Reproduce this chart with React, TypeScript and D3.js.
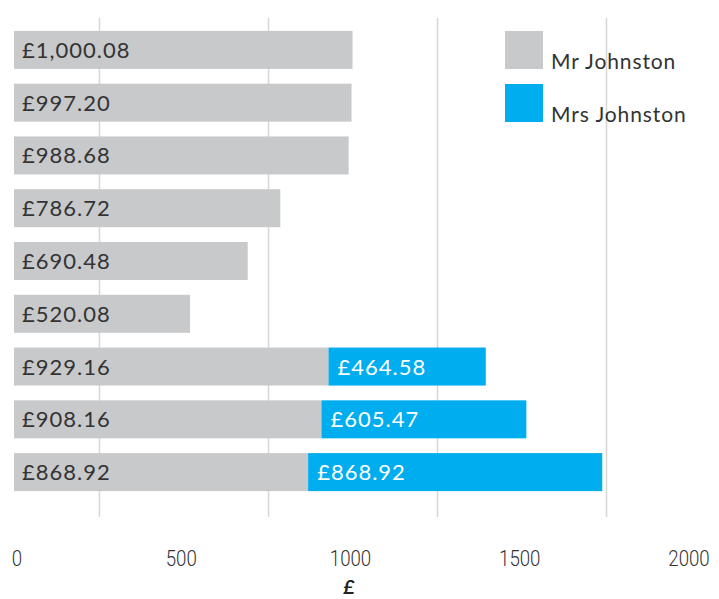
import React from "react";
import * as d3 from "d3";

const rows = ["r1", "r2", "r3", "r4", "r5", "r6", "r7", "r8", "r9"];
const mrValues = [1000.08, 997.2, 988.68, 786.72, 690.48, 520.08, 929.16, 908.16, 868.92];
const mrsValues = [0, 0, 0, 0, 0, 0, 464.58, 605.47, 868.92];
const seriesNames = ["Mr Johnston", "Mrs Johnston"];
const seriesColors = ["#c8c9cb", "#00adef"];
const tickValues = [0, 500, 1000, 1500, 2000];
const gridValues = [250, 750, 1250, 1750];
const axisTitle = "£";

const W = 719;
const H = 599;
const labelFont = "Lato, 'Open Sans', sans-serif";
const tickFont = "'Roboto', 'DejaVu Sans', sans-serif";

const fmt = (v: number) => "£" + d3.format(",.2f")(v);

export default function App() {
  const x = d3.scaleLinear().domain([0, 2000]).range([14, 691]);
  const y = d3
    .scaleBand<string>()
    .domain(rows)
    .range([23.5, 498.5])
    .paddingInner(0.28)
    .paddingOuter(0.14);
  const bw = y.bandwidth();

  return (
    <svg
      width={W}
      height={H}
      style={{ position: "absolute", left: 0, top: 0, display: "block" }}
    >
      <rect x={0} y={0} width={W} height={H} fill="#ffffff" />
      {gridValues.map((g) => (
        <line
          key={g}
          x1={Math.round(x(g)) + 0.5}
          x2={Math.round(x(g)) + 0.5}
          y1={18}
          y2={517}
          stroke="#d6d6d6"
          strokeWidth={1.5}
        />
      ))}
      {rows.map((r, i) => {
        const y0 = y(r)!;
        const mr = mrValues[i];
        const mrs = mrsValues[i];
        return (
          <g key={r}>
            <rect x={x(0)} y={y0} width={x(mr) - x(0)} height={bw} fill={seriesColors[0]} />
            <text
              x={x(0) + 8}
              y={y0 + bw / 2 + 8}
              fontFamily={labelFont}
              fontSize={22}
              letterSpacing={1}
              fill="#333333"
            >
              {fmt(mr)}
            </text>
            {mrs > 0 && (
              <>
                <rect
                  x={x(mr)}
                  y={y0}
                  width={x(mr + mrs) - x(mr)}
                  height={bw}
                  fill={seriesColors[1]}
                />
                <text
                  x={x(mr) + 9}
                  y={y0 + bw / 2 + 8}
                  fontFamily={labelFont}
                  fontSize={22}
                  letterSpacing={1}
                  fill="#ffffff"
                >
                  {fmt(mrs)}
                </text>
              </>
            )}
          </g>
        );
      })}
      {seriesNames.map((s, i) => (
        <g key={s}>
          <rect x={505} y={31 + i * 53} width={38} height={38} fill={seriesColors[i]} />
          <text
            x={551}
            y={69 + i * 53}
            fontFamily={labelFont}
            fontSize={21}
            letterSpacing={0.9}
            fill="#333333"
          >
            {s}
          </text>
        </g>
      ))}
      {tickValues.map((t) => {
        const cx = x(t) + (t === 0 ? 3 : -2);
        return (
          <text
            key={t}
            transform={`translate(${cx},566) scale(0.85,1)`}
            textAnchor="middle"
            fontFamily={tickFont}
            fontSize={22}
            fontWeight={300}
            fill="#333333"
          >
            {t}
          </text>
        );
      })}
      <text
        x={349}
        y={594}
        textAnchor="middle"
        fontFamily={labelFont}
        fontSize={19}
        fontWeight="bold"
        fontStyle="italic"
        fill="#222222"
      >
        {axisTitle}
      </text>
    </svg>
  );
}
